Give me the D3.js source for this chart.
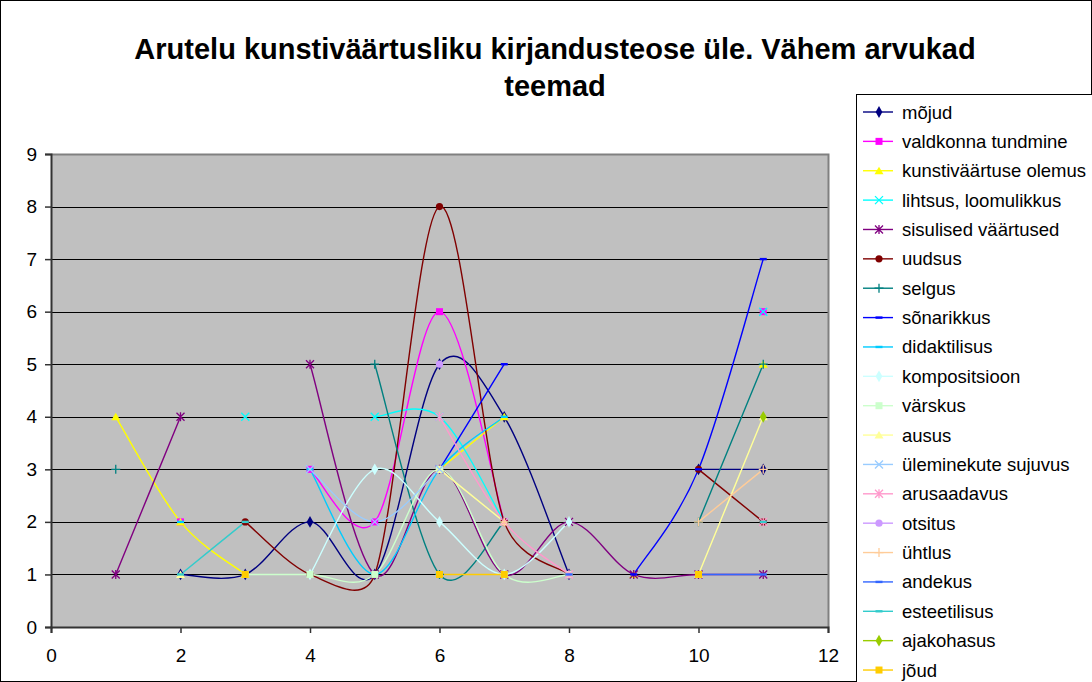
<!DOCTYPE html>
<html>
<head>
<meta charset="utf-8">
<script src="https://cdn.jsdelivr.net/npm/d3@7"></script>
<style>
  body { margin: 0; background: #fff; }
  text { font-family: "Liberation Sans", Arial, sans-serif; }
</style>
</head>
<body>
<svg id="chart" width="1092" height="682"></svg>
<script>
// x values shared by all series, null = no answer (gap in the line)
var xValues = [1, 2, 3, 4, 5, 6, 7, 8, 9, 10, 11];

var seriesNames = ["mõjud", "valdkonna tundmine", "kunstiväärtuse olemus", "lihtsus, loomulikkus",
  "sisulised väärtused", "uudsus", "selgus", "sõnarikkus", "didaktilisus", "kompositsioon",
  "värskus", "ausus", "üleminekute sujuvus", "arusaadavus", "otsitus", "ühtlus", "andekus",
  "esteetilisus", "ajakohasus", "jõud"];

var mojud         = [null, 1, 1, 2, 1, 5, 4, 1, null, 3, 3];
var valdkonna     = [null, 2, null, 3, 2, 6, 2, null, null, null, 6];
var kunstivaartus = [4, 2, 1, null, null, 3, 4, null, 1, null, 5];
var lihtsus       = [null, null, 4, null, 4, 4, 2, null, null, null, 6];
var sisulised     = [1, 4, null, 5, 1, 3, 1, 2, 1, 1, 1];
var uudsus        = [null, null, 2, 1, 1, 8, 2, 1, null, 3, 2];
var selgus        = [3, null, null, null, 5, 1, 2, null, null, 2, 5];
var sonarikkus    = [null, null, null, null, null, 3, 5, null, 1, 3, 7];
var didaktilisus  = [null, 2, null, 3, 1, 3, 4, null, null, null, null];
var kompositsioon = [null, null, null, 1, 3, 2, 1, 2, null, null, null];
var varskus       = [null, null, 1, 1, 1, 3, 1, 1, null, null, null];
var ausus         = [null, 1, null, null, null, 3, 2, null, null, 1, 4];
var uleminekute   = [null, null, null, 3, 2, 3, null, null, null, null, null];
var arusaadavus   = [null, null, null, null, null, 4, 2, 1, null, null, 2];
var otsitus       = [null, null, null, null, null, 5, null, null, null, null, null];
var uhtlus        = [null, null, null, null, null, null, 2, null, null, 2, 3];
var andekus       = [null, null, null, null, null, null, null, 1, null, 1, 1];
var esteetilisus  = [null, 1, 2, null, null, null, null, null, null, null, 2];
var ajakohasus    = [null, null, null, null, null, null, null, null, null, null, 4];
var joud          = [null, null, 1, null, null, 1, 1, null, null, 1, null];

var seriesValues = [mojud, valdkonna, kunstivaartus, lihtsus, sisulised, uudsus, selgus,
  sonarikkus, didaktilisus, kompositsioon, varskus, ausus, uleminekute, arusaadavus,
  otsitus, uhtlus, andekus, esteetilisus, ajakohasus, joud];

var xTicks = [0, 2, 4, 6, 8, 10, 12];
var yTicks = [0, 1, 2, 3, 4, 5, 6, 7, 8, 9];

// excel default series colours and markers
var colors = ["#000080", "#FF00FF", "#FFFF00", "#00FFFF", "#800080", "#800000", "#008080",
  "#0000FF", "#00CCFF", "#CCFFFF", "#CCFFCC", "#FFFF99", "#99CCFF", "#FF99CC", "#CC99FF",
  "#FFCC99", "#3366FF", "#33CCCC", "#99CC00", "#FFCC00"];
var markers = ["diamond", "square", "triangle", "x", "star", "circle", "plus", "dash",
  "dash", "diamond", "square", "triangle", "x", "star", "circle", "plus", "dash", "dash",
  "diamond", "square"];

var svg = d3.select("#chart");

svg.append("rect").attr("x", 0.5).attr("y", 0.5).attr("width", 1091).attr("height", 681)
  .attr("fill", "#fff").attr("stroke", "#000");

// title
var title = svg.append("text").attr("text-anchor", "middle")
  .attr("font-size", 29).attr("font-weight", "bold").attr("fill", "#000");
title.append("tspan").attr("x", 555).attr("y", 59).text("Arutelu kunstiväärtusliku kirjandusteose üle. Vähem arvukad");
title.append("tspan").attr("x", 555).attr("y", 96).text("teemad");

var plotLeft = 51, plotRight = 828, plotTop = 154, plotBottom = 627;

var x = d3.scaleLinear().domain([0, 12]).range([plotLeft, plotRight]);
var y = d3.scaleLinear().domain([0, 9]).range([plotBottom, plotTop]);

svg.append("rect").attr("x", plotLeft).attr("y", plotTop)
  .attr("width", plotRight - plotLeft).attr("height", plotBottom - plotTop).attr("fill", "#C0C0C0");

// gridlines
svg.append("g").selectAll("line").data(yTicks.filter(function(d) { return d > 0 && d < 9; }))
  .join("line")
  .attr("x1", plotLeft).attr("x2", plotRight)
  .attr("y1", function(d) { return Math.round(y(d)) + 0.5; })
  .attr("y2", function(d) { return Math.round(y(d)) + 0.5; })
  .attr("stroke", "#000").attr("stroke-width", 1);

// plot border top / right
svg.append("path")
  .attr("d", "M" + plotLeft + "," + (plotTop + 0.5) + "H" + (plotRight + 0.5) + "V" + plotBottom)
  .attr("fill", "none").attr("stroke", "#808080").attr("stroke-width", 2);

// axes
var yAxis = d3.axisLeft(y).tickValues(yTicks).tickSize(6).tickPadding(8);
var gy = svg.append("g").attr("transform", "translate(" + plotLeft + ",0)").call(yAxis);
var xAxis = d3.axisBottom(x).tickValues(xTicks).tickSize(6).tickPadding(16);
var gx = svg.append("g").attr("transform", "translate(0," + plotBottom + ")").call(xAxis);
[gx, gy].forEach(function(g) {
  g.select(".domain").attr("stroke", "#333").attr("stroke-width", 2);
  g.selectAll(".tick line").attr("stroke", "#333").attr("stroke-width", 1.5);
  g.selectAll(".tick text").attr("font-size", 19).attr("fill", "#000")
    .attr("font-family", "Liberation Sans, Arial, sans-serif");
});

function drawMarker(g, type, color) {
  if (type === "diamond") {
    g.append("path").attr("d", d3.symbol(d3.symbolDiamond, 40)()).attr("fill", color);
  } else if (type === "square") {
    g.append("rect").attr("x", -3.5).attr("y", -3.5).attr("width", 7).attr("height", 7).attr("fill", color);
  } else if (type === "triangle") {
    g.append("path").attr("d", "M0,-4L4.5,3.5L-4.5,3.5Z").attr("fill", color);
  } else if (type === "circle") {
    g.append("circle").attr("r", 3.6).attr("fill", color);
  } else if (type === "x") {
    g.append("path").attr("d", "M-4,-4L4,4M4,-4L-4,4").attr("stroke", color).attr("stroke-width", 1.3);
  } else if (type === "star") {
    g.append("path").attr("d", "M-4,-4L4,4M4,-4L-4,4M0,-4.5V4.5").attr("stroke", color).attr("stroke-width", 1.3);
  } else if (type === "plus") {
    g.append("path").attr("d", "M-4.5,0H4.5M0,-4.5V4.5").attr("stroke", color).attr("stroke-width", 1.3);
  } else if (type === "dash") {
    g.append("rect").attr("x", -3.5).attr("y", -1.2).attr("width", 7).attr("height", 2.4).attr("fill", color);
  }
}

// excel-like smoothing: catmull-rom arms (1/6 of neighbour chord),
// clamped to half of the segment they belong to
function arm(a, b, segLen) {
  var dx = (b[0] - a[0]) / 6, dy = (b[1] - a[1]) / 6;
  var l = Math.sqrt(dx * dx + dy * dy), max = segLen / 2;
  if (l > max && l > 0) { dx *= max / l; dy *= max / l; }
  return [dx, dy];
}
function smoothRun(path, p) {
  var n = p.length;
  path.moveTo(p[0][0], p[0][1]);
  for (var i = 0; i < n - 1; i++) {
    var p0 = p[Math.max(0, i - 1)], p1 = p[i], p2 = p[i + 1], p3 = p[Math.min(n - 1, i + 2)];
    var seg = Math.sqrt(Math.pow(p2[0] - p1[0], 2) + Math.pow(p2[1] - p1[1], 2));
    var a1 = arm(p0, p2, seg), a2 = arm(p1, p3, seg);
    path.bezierCurveTo(p1[0] + a1[0], p1[1] + a1[1], p2[0] - a2[0], p2[1] - a2[1], p2[0], p2[1]);
  }
}
function seriesPath(vals) {
  var path = d3.path(), run = [];
  xValues.forEach(function(xv, j) {
    if (vals[j] === null) {
      if (run.length) smoothRun(path, run);
      run = [];
    } else {
      run.push([x(xv), y(vals[j])]);
    }
  });
  if (run.length) smoothRun(path, run);
  return path.toString();
}

var plot = svg.append("g");
seriesValues.forEach(function(vals, i) {
  plot.append("path").attr("d", seriesPath(vals))
    .attr("fill", "none").attr("stroke", colors[i]).attr("stroke-width", 1.4);
});
seriesValues.forEach(function(vals, i) {
  xValues.forEach(function(xv, j) {
    if (vals[j] === null) return;
    var g = plot.append("g").attr("transform", "translate(" + x(xv) + "," + y(vals[j]) + ")");
    drawMarker(g, markers[i], colors[i]);
  });
});

// legend
var legend = svg.append("g");
legend.append("rect").attr("x", 856.5).attr("y", 94.5).attr("width", 260).attr("height", 620)
  .attr("fill", "#fff").attr("stroke", "#000");
seriesNames.forEach(function(name, i) {
  var ly = 112 + i * 29.37;
  var g = legend.append("g").attr("transform", "translate(0," + ly + ")");
  g.append("line").attr("x1", 863).attr("x2", 893).attr("y1", 0).attr("y2", 0)
    .attr("stroke", colors[i]).attr("stroke-width", 1.4);
  drawMarker(g.append("g").attr("transform", "translate(879,0)"), markers[i], colors[i]);
  g.append("text").attr("x", 902).attr("y", 6.5).attr("font-size", 18.5).attr("fill", "#000").text(name);
});
</script>
</body>
</html>
